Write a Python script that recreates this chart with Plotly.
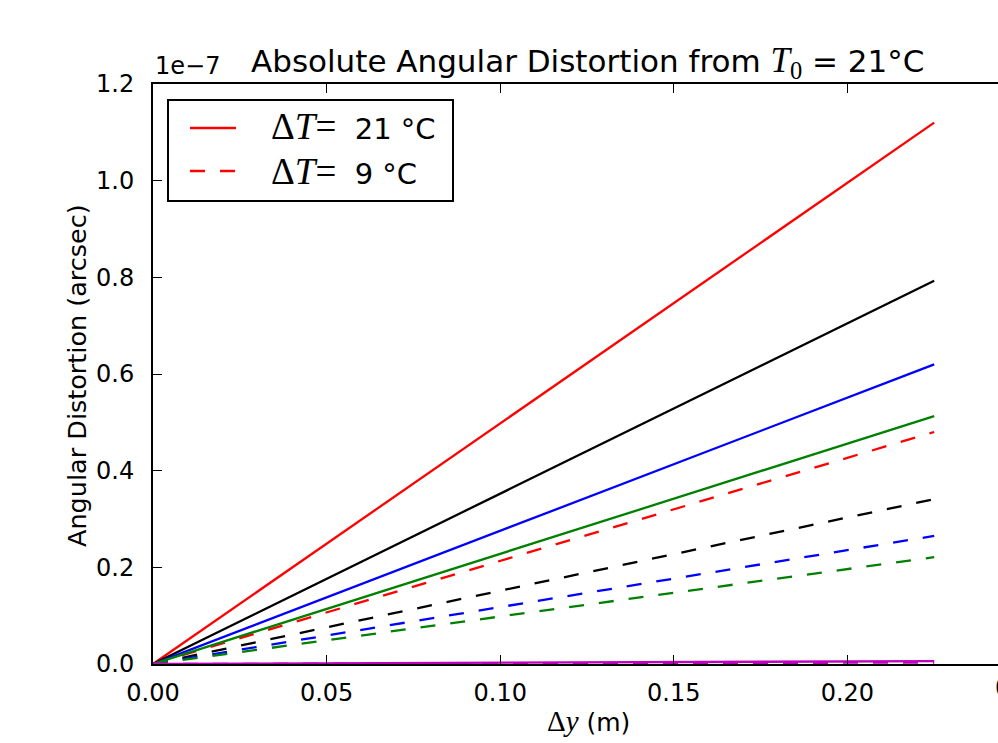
import plotly.graph_objects as go

# ---------------- data (angular distortion in units of 1e-7 arcsec) ----------------
dy_m = [0.0, 0.225]                      # delta y (m), lines start at origin and end at 0.225
line_colors = ["#ff0000", "#000000", "#0000ff", "#008000", "#bf00bf"]
dist_dT21 = [1.12, 0.793, 0.620, 0.513, 0.006]   # end values, ΔT = 21 °C (solid)
dist_dT9 = [0.480, 0.341, 0.265, 0.221, 0.003]   # end values, ΔT = 9 °C (dashed)
start_value = 0.0
x_ticks = [0.0, 0.05, 0.10, 0.15, 0.20]
y_ticks = [0.0, 0.2, 0.4, 0.6, 0.8, 1.0, 1.2]
legend_labels = ["21 °C", "9 °C"]

# ---------------- geometry helpers ----------------
W, H = 998, 743
ML, MT, MB = 153, 84, 79
PW, PH = W - ML, H - MT - MB
PX_PER_005 = 173.6


def px(x):
    return (x - ML) / PW


def py(y):
    return (H - MB - y) / PH


SERIF = "Liberation Serif"
SANS = "DejaVu Sans"
DASH = "15px,15px"
LW = 2.3

fig = go.Figure()
for c, v21, v9 in zip(line_colors, dist_dT21, dist_dT9):
    fig.add_trace(go.Scatter(x=dy_m, y=[start_value, v21], mode="lines",
                             line=dict(color=c, width=LW), showlegend=False, hoverinfo="skip"))
    fig.add_trace(go.Scatter(x=dy_m, y=[start_value, v9], mode="lines",
                             line=dict(color=c, width=LW, dash=DASH), showlegend=False, hoverinfo="skip"))

xmax = PW / PX_PER_005 * 0.05

fig.update_layout(
    width=W, height=H,
    margin=dict(l=ML, r=0, t=MT, b=MB, pad=0, autoexpand=False),
    paper_bgcolor="white", plot_bgcolor="white",
    font=dict(family=SANS, size=24, color="black"),
    showlegend=False,
    xaxis=dict(range=[0, xmax], tickvals=x_ticks, tickformat=".2f", automargin=False,
               showgrid=False, zeroline=False, showline=True, linecolor="black", linewidth=2,
               mirror="ticks", ticks="inside", ticklen=9, tickwidth=1.3, tickcolor="black",
               ticklabelstandoff=6, tickfont=dict(size=24, family=SANS)),
    yaxis=dict(range=[0, 1.2], tickvals=y_ticks, tickformat=".1f", automargin=False,
               showgrid=False, zeroline=False, showline=True, linecolor="black", linewidth=2,
               ticks="inside", ticklen=9, tickwidth=1.3, tickcolor="black",
               ticklabelstandoff=12, tickfont=dict(size=24, family=SANS)),
)

annotations = [
    # title
    dict(text=f'Absolute Angular Distortion from <span style="font-family:{SERIF};font-size:35px"><i>T</i><sub>0</sub></span> = 21°C',
         x=px(587), y=py(62), xref="paper", yref="paper", xanchor="center", yanchor="middle",
         showarrow=False, font=dict(size=31, family=SANS)),
    # x label
    dict(text=f'<span style="font-family:{SERIF};font-size:29px">Δ<i>y</i></span> (m)',
         x=px(588), y=py(721), xref="paper", yref="paper", xanchor="center", yanchor="middle",
         showarrow=False, font=dict(size=25, family=SANS)),
    # y label
    dict(text="Angular Distortion (arcsec)", textangle=-90,
         x=px(77), y=py(376), xref="paper", yref="paper", xanchor="center", yanchor="middle",
         showarrow=False, font=dict(size=25.5, family=SANS)),
    # offset text
    dict(text="1e−7", x=px(153), y=py(66), xref="paper", yref="paper", xanchor="left", yanchor="middle",
         showarrow=False, font=dict(size=24, family=SANS)),
    # partially visible 0.25 tick label
    dict(text="0.25", x=px(ML + 5 * PX_PER_005), y=py(688), xref="paper", yref="paper",
         xanchor="center", yanchor="middle", showarrow=False, font=dict(size=24, family=SANS)),
]
# legend text
for lbl, yrow in zip(legend_labels, [127, 171]):
    annotations.append(dict(
        text=f'<span style="font-family:{SERIF};font-size:37px">Δ<i>T</i>=</span>\u00a0\u00a0{lbl}',
        x=px(269), y=py(yrow), xref="paper", yref="paper", xanchor="left", yanchor="middle",
        showarrow=False, font=dict(size=29, family=SANS)))
fig.update_layout(annotations=annotations)

shapes = [
    dict(type="rect", xref="paper", yref="paper", x0=px(168), x1=px(453), y0=py(201), y1=py(100),
         line=dict(color="black", width=2), fillcolor="white", layer="above"),
    dict(type="line", xref="paper", yref="paper", x0=px(190), x1=px(236), y0=py(128), y1=py(128),
         line=dict(color=line_colors[0], width=LW), layer="above"),
    dict(type="line", xref="paper", yref="paper", x0=px(190), x1=px(236), y0=py(171), y1=py(171),
         line=dict(color=line_colors[0], width=LW, dash=DASH), layer="above"),
]
fig.update_layout(shapes=shapes)

fig.write_html("out.html", config={"displayModeBar": False},
               post_script="document.body.style.margin='0';document.body.style.overflow='hidden';")
